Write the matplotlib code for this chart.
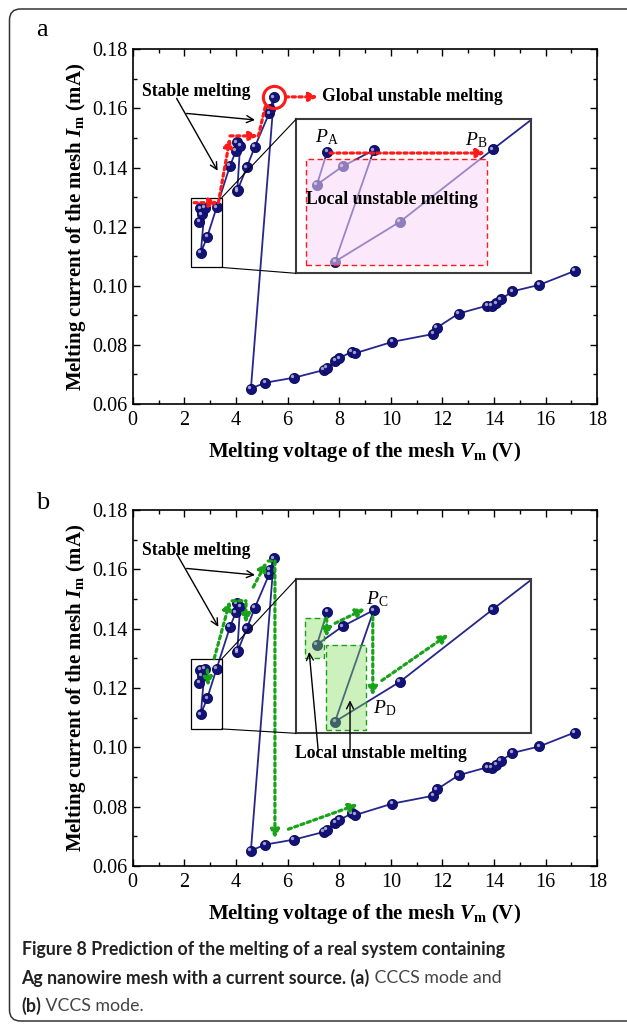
import numpy as np
import matplotlib
matplotlib.use('Agg')
import matplotlib.pyplot as plt
from matplotlib.patches import Rectangle, FancyBboxPatch, ConnectionPatch
from matplotlib.transforms import offset_copy, IdentityTransform
from matplotlib.ticker import MultipleLocator

# ---------------- data (melting sequence) ----------------
vm = [2.61, 2.57, 2.67, 2.79, 2.64, 2.89, 3.25, 3.77, 4.00, 4.03, 4.16, 4.05, 4.07,
      4.42, 4.73, 5.29, 5.32, 5.47, 4.58, 5.13, 6.25, 7.41, 7.52, 7.84, 8.01, 8.48,
      8.63, 10.05, 11.65, 11.78, 12.63, 13.74, 13.92, 14.08, 14.26, 14.71, 15.75, 17.12]
im = [0.1262, 0.1217, 0.1242, 0.1264, 0.1112, 0.1166, 0.1265, 0.1406, 0.1456, 0.1485,
      0.1473, 0.1320, 0.1325, 0.1401, 0.1470, 0.1584, 0.1598, 0.1638, 0.0652, 0.0672,
      0.0689, 0.0715, 0.0722, 0.0746, 0.0755, 0.0777, 0.0772, 0.0810, 0.0837, 0.0858,
      0.0906, 0.0933, 0.0932, 0.0941, 0.0954, 0.0981, 0.1003, 0.1050]
x_ticks = [0, 2, 4, 6, 8, 10, 12, 14, 16, 18]
y_ticks = [0.06, 0.08, 0.10, 0.12, 0.14, 0.16, 0.18]
inset_xlim = (2.489, 3.398)
inset_ylim = (0.1096, 0.1306)
zoom_box = (2.26, 0.1062, 3.45, 0.1298)

plt.rcParams['font.family'] = 'Liberation Serif'
plt.rcParams['mathtext.fontset'] = 'custom'
plt.rcParams['mathtext.rm'] = 'Liberation Serif'
plt.rcParams['mathtext.it'] = 'Liberation Serif:italic'
plt.rcParams['mathtext.bf'] = 'Liberation Serif:bold'
plt.rcParams['mathtext.bfit'] = 'Liberation Serif:italic:bold'

W, H = 627, 1028
fig = plt.figure(figsize=(W / 100, H / 100), dpi=100)


def axrect(l, t, r, b):
    return [l / W, 1 - b / H, (r - l) / W, (b - t) / H]


NAVY = '#12127a'
LINE = '#26268c'
RED = '#ff1a1a'
GREEN = '#19a319'


def draw_series(ax, ms=7.3, lw=1.3):
    ax.plot(vm, im, '-', color=LINE, lw=lw, zorder=2)
    ax.plot(vm, im, 'o', ls='none', ms=ms, mfc=NAVY, mec='#0a0a55', mew=0.6, zorder=3)
    tr = offset_copy(ax.transData, fig=fig, x=-1.1, y=1.1, units='points')
    ax.plot(vm, im, 'o', ls='none', ms=ms * 0.33, mfc='white', mec='none', alpha=0.6,
            transform=tr, zorder=3.5)


def setup_main(ax):
    ax.set_xlim(0, 18)
    ax.set_ylim(0.06, 0.18)
    ax.set_xticks(x_ticks)
    ax.set_yticks(y_ticks)
    ax.set_xticklabels([str(v) for v in x_ticks], family='Liberation Serif')
    ax.set_yticklabels([f'{v:.2f}' for v in y_ticks], family='Liberation Serif')
    ax.xaxis.set_minor_locator(MultipleLocator(1))
    ax.yaxis.set_minor_locator(MultipleLocator(0.01))
    ax.tick_params(which='both', direction='in', top=True, right=True, labelsize=14.5,
                   width=1.0)
    ax.tick_params(axis='x', pad=5)
    ax.tick_params(axis='y', pad=4)
    ax.tick_params(which='major', length=5)
    ax.tick_params(which='minor', length=3)
    for s in ax.spines.values():
        s.set_linewidth(1.2)
    ax.set_xlabel(r'Melting voltage of the mesh $\mathbfit{V}_{\mathbf{m}}$ (V)',
                  fontsize=15, fontweight='bold', va='center')
    ax.set_ylabel(r'Melting current of the mesh $\mathbfit{I}_{\mathbf{m}}$ (mA)',
                  fontsize=15, fontweight='bold', va='center')
    ax.xaxis.set_label_coords(0.5, -0.136)
    ax.yaxis.set_label_coords(-0.122, 0.5)
    draw_series(ax)
    bx0, by0, bx1, by1 = zoom_box
    ax.add_patch(Rectangle((bx0, by0), bx1 - bx0, by1 - by0, fill=False, ec='black',
                           lw=0.9, zorder=4))


def setup_inset(ax):
    draw_series(ax)
    ax.set_xlim(*inset_xlim)
    ax.set_ylim(*inset_ylim)
    ax.set_xticks([])
    ax.set_yticks([])
    for s in ax.spines.values():
        s.set_linewidth(1.5)
        s.set_color('#3c3c3c')


def connect(ax, ins):
    bx0, by0, bx1, by1 = zoom_box
    for yb, yi in ((by1, 1), (by0, 0)):
        cp = ConnectionPatch(xyA=(bx1, yb), coordsA=ax.transData, xyB=(0, yi),
                             coordsB=ins.transAxes, color='black', lw=0.8)
        fig.add_artist(cp)


def darrow(ax, p0, p1, color, lw=2.3, head=True):
    style = '-|>,head_length=0.5,head_width=0.25' if head else '-'
    ax.annotate('', xy=p1, xytext=p0,
                arrowprops=dict(arrowstyle=style, linestyle=(0, (1, 1.1)), lw=lw,
                                color=color, shrinkA=0, shrinkB=0),
                annotation_clip=False, zorder=6)


def barrow(ax, p0, p1):
    ax.annotate('', xy=p1, xytext=p0,
                arrowprops=dict(arrowstyle='->,head_length=0.5,head_width=0.25', lw=1.0,
                                color='black', shrinkA=0, shrinkB=0),
                annotation_clip=False, zorder=6)


BOLD = dict(fontsize=12.7, fontweight='bold', family='Liberation Serif')

# ---------------- panel a ----------------
axa = fig.add_axes(axrect(132.7, 49.3, 597.3, 404))
setup_main(axa)
axa.text(2.47, 0.1657, 'Stable melting', ha='center', va='center', **BOLD)
barrow(axa, (1.70, 0.1634), (3.29, 0.1389))
barrow(axa, (2.09, 0.1583), (4.74, 0.1561))
darrow(axa, (2.38, 0.1281), (3.32, 0.1281), RED)
darrow(axa, (3.32, 0.1281), (3.77, 0.1500), RED)
darrow(axa, (3.77, 0.1507), (4.87, 0.1507), RED)
darrow(axa, (4.87, 0.1507), (5.15, 0.1611), RED, head=False)
imax = int(np.argmax(im))
axa.plot([vm[imax]], [im[imax]], 'o', ms=16, mfc='none', mec=RED, mew=2.2, zorder=5)
darrow(axa, (5.92, 0.1639), (7.18, 0.1639), RED)
axa.text(7.33, 0.1641, 'Global unstable melting', ha='left', va='center', **BOLD)
fig.text(36 / W, 1 - 30 / H, 'a', fontsize=19, ha='left', va='center')

insa = fig.add_axes(axrect(296, 119.3, 531, 273.3))
setup_inset(insa)
connect(axa, insa)
insa.add_patch(Rectangle((2.528, 0.1107), 0.698, 0.0145, fc='#f8d6f8', ec='none',
                         alpha=0.55, zorder=4))
insa.add_patch(Rectangle((2.528, 0.1107), 0.698, 0.0145, fill=False, ec=RED, lw=1.0,
                         ls=(0, (4, 2.5)), zorder=4.5))
darrow(insa, (2.621, 0.1260), (3.222, 0.1260), RED)
insa.text(2.861, 0.1196, 'Local unstable melting', ha='center', va='center', zorder=7,
          **BOLD)
insa.text(2.607, 0.1281, r'$P_{\mathrm{A}}$', fontsize=14, ha='center', va='center')
insa.text(3.187, 0.1277, r'$P_{\mathrm{B}}$', fontsize=14, ha='center', va='center')

# ---------------- panel b ----------------
axb = fig.add_axes(axrect(132.7, 510, 597.3, 866))
setup_main(axb)
axb.text(2.47, 0.1663, 'Stable melting', ha='center', va='center', **BOLD)
barrow(axb, (1.70, 0.1653), (3.32, 0.1406))
barrow(axb, (2.09, 0.1603), (4.74, 0.1581))
darrow(axb, (2.89, 0.1261), (2.93, 0.1205), GREEN)
darrow(axb, (3.16, 0.1300), (3.77, 0.1494), GREEN)
darrow(axb, (3.85, 0.1494), (4.39, 0.1494), GREEN, head=False)
darrow(axb, (4.39, 0.1486), (4.39, 0.1418), GREEN)
darrow(axb, (4.67, 0.1540), (5.19, 0.1625), GREEN)
darrow(axb, (5.25, 0.1628), (5.51, 0.1628), GREEN, head=False)
darrow(axb, (5.51, 0.1626), (5.51, 0.0692), GREEN)
darrow(axb, (6.03, 0.0724), (8.73, 0.0808), GREEN)
axb.text(9.62, 0.0978, 'Local unstable melting', ha='center', va='center', **BOLD)
fig.text(36 / W, 1 - 503 / H, 'b', fontsize=19, ha='left', va='center')

insb = fig.add_axes(axrect(296, 579.3, 531, 733.3))
setup_inset(insb)
connect(axb, insb)
for (x0, y0, x1, y1) in [(2.524, 0.1199, 2.599, 0.1253), (2.605, 0.1101, 2.760, 0.1216)]:
    insb.add_patch(Rectangle((x0, y0), x1 - x0, y1 - y0, fc='#82dc5a', ec='none',
                             alpha=0.4, zorder=4))
    insb.add_patch(Rectangle((x0, y0), x1 - x0, y1 - y0, fill=False, ec=GREEN, lw=1.0,
                             ls=(0, (4, 2.5)), zorder=4.5))
darrow(insb, (2.608, 0.1253), (2.608, 0.1227), GREEN)
darrow(insb, (2.640, 0.1246), (2.756, 0.1266), GREEN)
darrow(insb, (2.786, 0.1255), (2.786, 0.1147), GREEN)
darrow(insb, (2.821, 0.1168), (3.079, 0.1231), GREEN)
insb.text(2.801, 0.1279, r'$P_{\mathrm{C}}$', fontsize=14, ha='center', va='center')
insb.text(2.830, 0.1130, r'$P_{\mathrm{D}}$', fontsize=14, ha='center', va='center')
barrow(insb, (2.575, 0.1072), (2.540, 0.1207))
barrow(insb, (2.698, 0.1072), (2.698, 0.1141))

# ---------------- caption ----------------
CAP = 'Lato'
cap_size = 12.8
r = fig.canvas.get_renderer()
fig.text(21.5 / W, 1 - 950 / H, 'Figure 8 Prediction of the melting of a real system containing',
         family=CAP, fontweight='bold', fontsize=cap_size, va='center', ha='left', color='#222222')
t = fig.text(21.5 / W, 1 - 978 / H, 'Ag nanowire mesh with a current source. (a)',
             family=CAP, fontweight='bold', fontsize=cap_size, va='center', ha='left',
             color='#222222')
bb = t.get_window_extent(r)
fig.text(bb.x1 / W, 1 - 978 / H, ' CCCS mode and', family=CAP, fontsize=cap_size,
         va='center', ha='left', color='#444444')
t = fig.text(21.5 / W, 1 - 1006 / H, '(b)', family=CAP, fontweight='bold', fontsize=cap_size,
             va='center', ha='left', color='#222222')
bb = t.get_window_extent(r)
fig.text(bb.x1 / W, 1 - 1006 / H, ' VCCS mode.', family=CAP, fontsize=cap_size,
         va='center', ha='left', color='#444444')

# ---------------- border ----------------
border = FancyBboxPatch((9.5, H - 1021), 650, 1012, boxstyle='round,pad=0,rounding_size=11',
                        transform=IdentityTransform(), fill=False, ec='#333333', lw=1.1)
fig.add_artist(border)

fig.savefig('out.png', dpi=100)
